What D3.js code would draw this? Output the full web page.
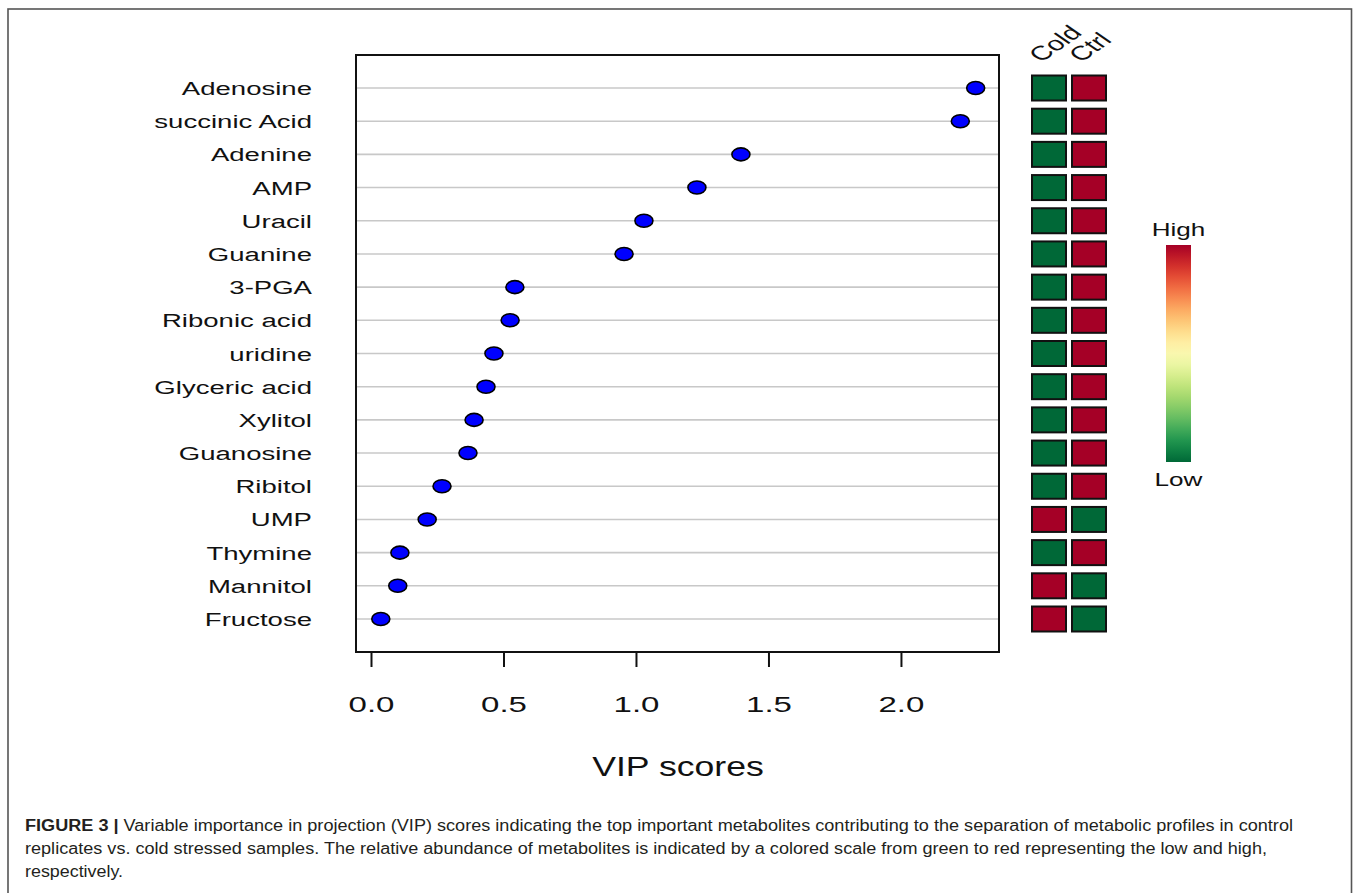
<!DOCTYPE html>
<html>
<head>
<meta charset="utf-8">
<script src="https://cdn.jsdelivr.net/npm/d3@7"></script>
<style>
  html, body { margin: 0; padding: 0; background: #fff; }
  svg { display: block; }
</style>
</head>
<body>
<svg id="chart" width="1357" height="893"></svg>
<script>
// ---- data ----
const metabolites = ["Adenosine", "succinic Acid", "Adenine", "AMP", "Uracil", "Guanine", "3-PGA",
  "Ribonic acid", "uridine", "Glyceric acid", "Xylitol", "Guanosine", "Ribitol", "UMP",
  "Thymine", "Mannitol", "Fructose"];
const vipScores = [2.282, 2.224, 1.396, 1.230, 1.030, 0.955, 0.543, 0.525, 0.464, 0.434, 0.389,
  0.366, 0.268, 0.212, 0.109, 0.101, 0.037];
// relative abundance: 1 = High, 0 = Low
const coldLevel = [0, 0, 0, 0, 0, 0, 0, 0, 0, 0, 0, 0, 0, 1, 0, 1, 1];
const ctrlLevel = [1, 1, 1, 1, 1, 1, 1, 1, 1, 1, 1, 1, 1, 0, 1, 0, 0];
const groups = ["Cold", "Ctrl"];
const xTicks = [0.0, 0.5, 1.0, 1.5, 2.0];
const xTitle = "VIP scores";
const legendLabels = ["High", "Low"];
const captionBold = "FIGURE 3 | ";
const captionLines = [
  "Variable importance in projection (VIP) scores indicating the top important metabolites contributing to the separation of metabolic profiles in control",
  "replicates vs. cold stressed samples. The relative abundance of metabolites is indicated by a colored scale from green to red representing the low and high,",
  "respectively."
];

// ---- layout ----
const svg = d3.select("#chart");
const SX = 1.45; // horizontal stretch of the original figure
const FONT = "'Liberation Sans', Arial, Helvetica, sans-serif";

const box = { left: 356, right: 999, top: 55, bottom: 652 };
const x = d3.scaleLinear().domain([-0.0566, 2.370]).range([box.left, box.right]);
const y = d3.scalePoint().domain(metabolites).range([88, 619]);
const color = d3.scaleSequential(d3.interpolateRdYlGn).domain([1, 0]);

// outer frame
svg.append("rect").attr("x", 8).attr("y", 9).attr("width", 1343.5).attr("height", 920)
  .attr("fill", "none").attr("stroke", "#555").attr("stroke-width", 1.6);

// gridlines
svg.append("g").selectAll("line").data(metabolites).join("line")
  .attr("x1", box.left).attr("x2", box.right)
  .attr("y1", d => y(d)).attr("y2", d => y(d))
  .attr("stroke", "#c8c8c8").attr("stroke-width", 1.6);

// plot box
svg.append("rect").attr("x", box.left).attr("y", box.top)
  .attr("width", box.right - box.left).attr("height", box.bottom - box.top)
  .attr("fill", "none").attr("stroke", "#111").attr("stroke-width", 2);

// points
svg.append("g").selectAll("ellipse").data(metabolites).join("ellipse")
  .attr("cx", (d, i) => x(vipScores[i])).attr("cy", d => y(d))
  .attr("rx", 9).attr("ry", 6.5)
  .attr("fill", "#0000ff").attr("stroke", "#000").attr("stroke-width", 1.6);

// y labels
svg.append("g").selectAll("text").data(metabolites).join("text")
  .attr("transform", d => `translate(312,${y(d) + 7}) scale(${SX},1)`)
  .attr("text-anchor", "end").attr("font-family", FONT).attr("font-size", 19)
  .attr("fill", "#111").text(d => d);

// x axis
const axis = d3.axisBottom(x).tickValues(xTicks).tickFormat(d3.format(".1f"))
  .tickSize(14).tickPadding(0);
const gx = svg.append("g").attr("transform", `translate(0,${box.bottom + 1})`).call(axis);
gx.select(".domain").remove();
gx.selectAll(".tick line").attr("stroke", "#111").attr("stroke-width", 2);
gx.selectAll(".tick text").attr("y", 0).attr("dy", 0)
  .attr("transform", d => `translate(0,${712 - box.bottom - 1}) scale(1.5,1)`)
  .attr("font-family", FONT).attr("font-size", 22).attr("fill", "#111");

// x title
svg.append("text").attr("transform", `translate(678,776) scale(1.32,1)`)
  .attr("text-anchor", "middle").attr("font-family", FONT).attr("font-size", 27)
  .attr("fill", "#111").text(xTitle);

// heatmap tiles
const colX = d3.scaleBand().domain(groups).range([1032, 1106]).paddingInner(0.15).paddingOuter(0);
const levels = { Cold: coldLevel, Ctrl: ctrlLevel };
const tileH = 25;
groups.forEach(g => {
  svg.append("g").selectAll("rect").data(metabolites).join("rect")
    .attr("x", colX(g)).attr("y", d => y(d) - tileH / 2)
    .attr("width", colX.bandwidth()).attr("height", tileH)
    .attr("fill", (d, i) => color(levels[g][i]))
    .attr("stroke", "#111").attr("stroke-width", 2);
});

// column labels (rotated)
svg.append("g").selectAll("text").data(groups).join("text")
  .attr("transform", d => `translate(${colX(d) + 9},63) scale(${SX},1) rotate(-45)`)
  .attr("font-family", FONT).attr("font-size", 20).attr("fill", "#111").text(d => d);

// colour legend
const defs = svg.append("defs");
const grad = defs.append("linearGradient").attr("id", "legGrad")
  .attr("x1", 0).attr("y1", 0).attr("x2", 0).attr("y2", 1);
d3.range(0, 1.0001, 0.05).forEach(t => {
  grad.append("stop").attr("offset", t).attr("stop-color", color(1 - t));
});
const leg = { x: 1166, y: 245, w: 25, h: 217 };
svg.append("rect").attr("x", leg.x).attr("y", leg.y).attr("width", leg.w).attr("height", leg.h)
  .attr("fill", "url(#legGrad)");
svg.append("text").attr("transform", `translate(${leg.x + leg.w / 2},236) scale(${SX},1)`)
  .attr("text-anchor", "middle").attr("font-family", FONT).attr("font-size", 18)
  .attr("fill", "#111").text(legendLabels[0]);
svg.append("text").attr("transform", `translate(${leg.x + leg.w / 2},486) scale(${SX},1)`)
  .attr("text-anchor", "middle").attr("font-family", FONT).attr("font-size", 18)
  .attr("fill", "#111").text(legendLabels[1]);

// caption
const capY = [831, 854, 877];
const capEnd = [1293, 1267, 123];
captionLines.forEach((line, i) => {
  const t = svg.append("text").attr("x", 25).attr("y", capY[i])
    .attr("font-family", "'Liberation Sans Narrow', 'Liberation Sans', Arial, sans-serif")
    .attr("font-size", 16).attr("fill", "#231f20")
    .attr("textLength", capEnd[i] - 25).attr("lengthAdjust", "spacingAndGlyphs");
  if (i === 0) t.append("tspan").attr("font-weight", "bold").text(captionBold);
  t.append("tspan").text(line);
});
</script>
</body>
</html>
